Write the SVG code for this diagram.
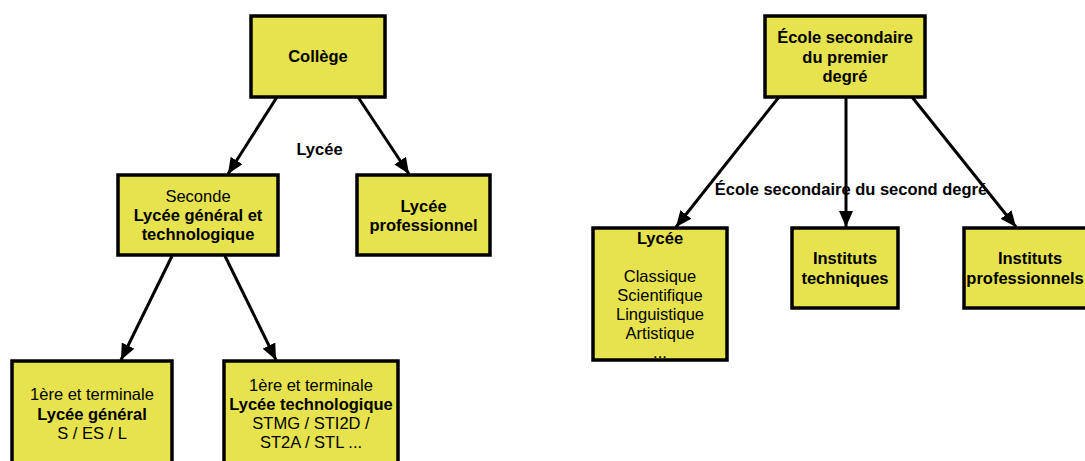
<svg xmlns="http://www.w3.org/2000/svg" width="1085" height="461" viewBox="0 0 1085 461">
<style>
.box{fill:#e6e34e;stroke:#000;stroke-width:3.5}
text{font-family:"Liberation Sans",Arial,sans-serif;font-size:16.5px;fill:#000;text-anchor:middle;dominant-baseline:central}
.b{font-weight:bold}
.edge{stroke:#000;stroke-width:3;fill:none;marker-end:url(#ah)}
</style>
<defs>
<marker id="ah" markerUnits="userSpaceOnUse" markerWidth="18" markerHeight="14" refX="16" refY="7" orient="auto">
<path d="M0,0 L16,7 L0,14 Z" fill="#000"/>
</marker>
</defs>
<rect width="1085" height="461" fill="#fff"/>
<g id="connectors">
<line class="edge" x1="277" y1="97" x2="228" y2="174"/>
<line class="edge" x1="358" y1="97" x2="409" y2="174"/>
<line class="edge" x1="172" y1="256" x2="121" y2="360"/>
<line class="edge" x1="225" y1="256" x2="276" y2="360"/>
<line class="edge" x1="779" y1="97" x2="676" y2="227"/>
<line class="edge" x1="846" y1="97" x2="846" y2="227"/>
<line class="edge" x1="912" y1="97" x2="1016" y2="227"/>
<text class="b" x="319.5" y="149">Lycée</text>
<text class="b" x="851" y="189">École secondaire du second degré</text>
</g>
<g id="college">
<rect class="box" x="251" y="16" width="134" height="81"/>
<text class="b" x="318" y="56">Collège</text>
</g>
<g id="seconde">
<rect class="box" x="118" y="175" width="160" height="80"/>
<text x="198" y="196">Seconde</text>
<text class="b" x="198" y="215">Lycée général et</text>
<text class="b" x="198" y="234">technologique</text>
</g>
<g id="lycee-pro">
<rect class="box" x="357" y="175" width="133" height="80"/>
<text class="b" x="423.5" y="206">Lycée</text>
<text class="b" x="423.5" y="225">professionnel</text>
</g>
<g id="lycee-general">
<rect class="box" x="12" y="361" width="160" height="110"/>
<text x="92" y="394">1ère et terminale</text>
<text class="b" x="92" y="414">Lycée général</text>
<text x="92" y="433">S / ES / L</text>
</g>
<g id="lycee-techno">
<rect class="box" x="224" y="361" width="174" height="110"/>
<text x="311" y="385">1ère et terminale</text>
<text class="b" x="311" y="404">Lycée technologique</text>
<text x="311" y="423">STMG / STI2D /</text>
<text x="311" y="442">ST2A / STL ...</text>
</g>
<g id="ecole-premier">
<rect class="box" x="765" y="16" width="160" height="81"/>
<text class="b" x="845" y="37">École secondaire</text>
<text class="b" x="845" y="57">du premier</text>
<text class="b" x="845" y="76">degré</text>
</g>
<g id="lycee-it">
<rect class="box" x="593" y="228" width="134" height="132"/>
<text class="b" x="660" y="238">Lycée</text>
<text x="660" y="276">Classique</text>
<text x="660" y="295">Scientifique</text>
<text x="660" y="314">Linguistique</text>
<text x="660" y="333">Artistique</text>
<text x="660" y="352">...</text>
</g>
<g id="instituts-techniques">
<rect class="box" x="792" y="228" width="106" height="80"/>
<text class="b" x="845" y="258">Instituts</text>
<text class="b" x="845" y="278">techniques</text>
</g>
<g id="instituts-professionnels">
<rect class="box" x="964" y="228" width="132" height="80"/>
<text class="b" x="1030" y="258">Instituts</text>
<text class="b" x="1025" y="278">professionnels</text>
</g>
</svg>
